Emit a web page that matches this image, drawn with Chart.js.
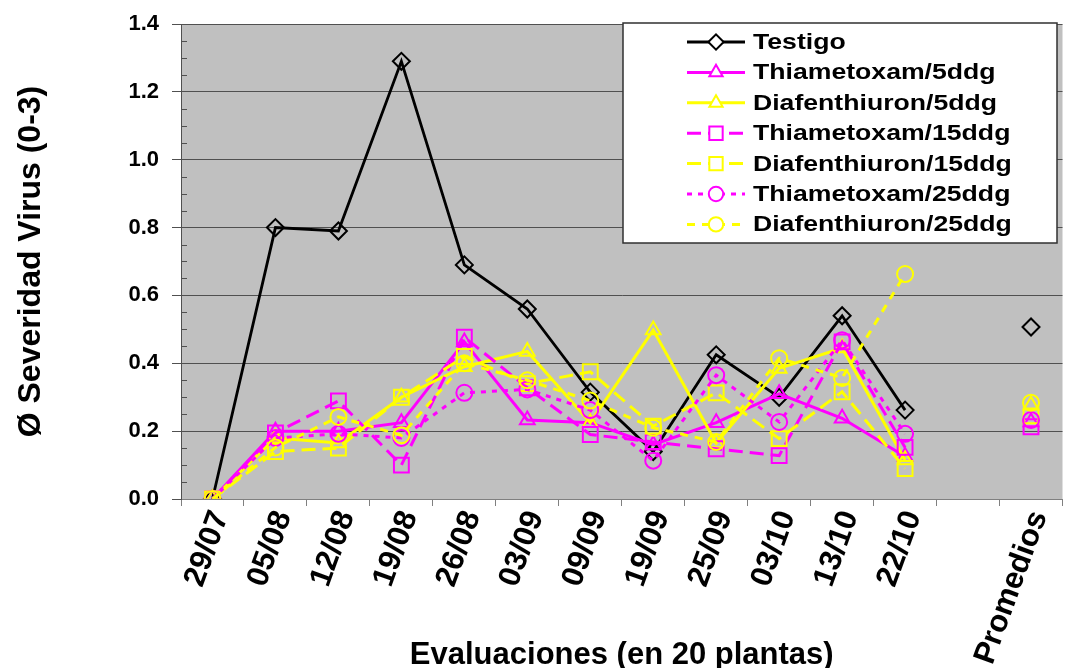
<!DOCTYPE html>
<html><head><meta charset="utf-8">
<style>
html,body{margin:0;padding:0;overflow:hidden;background:#fff;width:1067px;height:668px}
#wrap{position:absolute;left:0;top:0;width:1075px;height:668px}
</style>
<script src="https://cdn.jsdelivr.net/npm/chart.js@4.4.1/dist/chart.umd.min.js"></script>
</head><body><div id="wrap"><canvas id="c"></canvas></div>
<script>
const categories = ['29/07','05/08','12/08','19/08','26/08','03/09','09/09','19/09','25/09','03/10','13/10','22/10','','Promedios'];
const yTicks = [0,0.2,0.4,0.6,0.8,1.0,1.2,1.4];
const testigo = [0, 0.80, 0.79, 1.29, 0.69, 0.56, 0.315, 0.14, 0.425, 0.30, 0.54, 0.262, null, 0.507];
const thiam5  = [0, 0.20, 0.20, 0.225, 0.463, 0.233, 0.225, 0.16, 0.225, 0.31, 0.238, 0.125, null, 0.227];
const diaf5   = [0, 0.18, 0.165, 0.30, 0.39, 0.435, 0.225, 0.498, 0.165, 0.385, 0.445, 0.115, null, 0.276];
const thiam15 = [0, 0.195, 0.289, 0.10, 0.477, 0.328, 0.19, 0.168, 0.148, 0.128, 0.463, 0.152, null, 0.213];
const diaf15  = [0, 0.14, 0.15, 0.30, 0.42, 0.34, 0.375, 0.215, 0.313, 0.178, 0.316, 0.09, null, 0.245];
const thiam25 = [0, 0.18, 0.192, 0.18, 0.313, 0.323, 0.262, 0.113, 0.365, 0.227, 0.468, 0.192, null, 0.233];
const diaf25  = [0, 0.152, 0.242, 0.188, 0.40, 0.35, 0.29, 0.21, 0.168, 0.415, 0.357, 0.663, null, 0.284];

const FONT = "'Liberation Sans', Arial, sans-serif";
const MAG = '#FF00FF', YEL = '#FFFF00';
const series = [
  {label:'Testigo',            data:testigo, color:'#000000', style:'rectRot',  dash:[],     width:2.8, radius:8.5},
  {label:'Thiametoxam/5ddg',   data:thiam5,  color:MAG,       style:'triangle', dash:[],     width:3,   radius:8.5},
  {label:'Diafenthiuron/5ddg', data:diaf5,   color:YEL,       style:'triangle', dash:[],     width:3,   radius:8.5},
  {label:'Thiametoxam/15ddg',  data:thiam15, color:MAG,       style:'rect',     dash:[14,7], width:3,   radius:10.5},
  {label:'Diafenthiuron/15ddg',data:diaf15,  color:YEL,       style:'rect',     dash:[14,7], width:3,   radius:10.5},
  {label:'Thiametoxam/25ddg',  data:thiam25, color:MAG,       style:'circle',   dash:[5,6],  width:3,   radius:8},
  {label:'Diafenthiuron/25ddg',data:diaf25,  color:YEL,       style:'circle',   dash:[8,7],  width:3,   radius:8}
];

const bgPlugin = {
  id:'bg',
  beforeDraw(chart){
    const {ctx, chartArea:a} = chart;
    ctx.save(); ctx.fillStyle = '#C0C0C0';
    ctx.fillRect(a.left, a.top, a.right - a.left, a.bottom - a.top);
    ctx.restore();
  },
  beforeDatasetsDraw(chart){
    const {ctx, chartArea:a} = chart; const ys = chart.scales.y;
    ctx.save(); ctx.strokeStyle = '#505050'; ctx.lineWidth = 1;
    for (let k = 1; k < 28; k++) {
      if (k % 4 === 0) continue;
      const y = Math.round(ys.getPixelForValue(k * 0.05)) + 0.5;
      ctx.beginPath(); ctx.moveTo(a.left, y); ctx.lineTo(a.left + 6, y); ctx.stroke();
    }
    ctx.restore();
  }
};

const legendPlugin = {
  id:'boxLegend',
  afterDraw(chart){
    const ctx = chart.ctx;
    ctx.save();
    ctx.fillStyle = '#FFFFFF'; ctx.fillRect(623, 23, 434, 220);
    ctx.strokeStyle = '#303030'; ctx.lineWidth = 1.5; ctx.strokeRect(623, 23, 434, 220);
    series.forEach((s, i) => {
      const y = 42 + i * 30.4;
      ctx.save();
      ctx.strokeStyle = s.color; ctx.lineWidth = s.width; ctx.setLineDash(s.dash);
      ctx.beginPath(); ctx.moveTo(687, y); ctx.lineTo(745, y); ctx.stroke();
      ctx.setLineDash([]);
      ctx.fillStyle = '#FFFFFF'; ctx.lineWidth = 2;
      Chart.helpers.drawPoint(ctx, {pointStyle:s.style, radius:s.radius * 0.9, borderWidth:2, rotation:0}, 716, y);
      ctx.restore();
      ctx.save();
      ctx.fillStyle = '#000'; ctx.font = 'bold 22px ' + FONT; ctx.textBaseline = 'middle'; ctx.textAlign = 'left';
      ctx.translate(753, y + 1); ctx.scale(1.21, 1);
      ctx.fillText(s.label, 0, 0);
      ctx.restore();
    });
    ctx.restore();
  }
};

const datasets = series.map((s, i) => ({
  label: s.label,
  data: s.data,
  borderColor: s.color,
  borderWidth: s.width,
  borderDash: s.dash,
  pointStyle: s.style,
  pointRadius: s.radius,
  pointBorderWidth: 2,
  pointBorderColor: s.color,
  pointBackgroundColor: 'rgba(0,0,0,0)',
  fill: false,
  tension: 0,
  spanGaps: false,
  order: series.length - i
}));

new Chart(document.getElementById('c'), {
  type: 'line',
  data: { labels: categories, datasets },
  options: {
    responsive: true, maintainAspectRatio: false, animation: false,
    layout: { padding: { top: 24, right: 1, left: 0, bottom: 0 } },
    plugins: { legend: { display: false }, tooltip: { enabled: false } },
    scales: {
      x: {
        type: 'category', offset: true,
        grid: { offset: true, drawOnChartArea: false, drawTicks: true, tickLength: 7, color: '#808080' },
        border: { display: true, color: '#808080' },
        ticks: { autoSkip: false, minRotation: 70, maxRotation: 70, padding: 0, labelOffset: 8, color: '#000',
                 font: { family: FONT, size: 31, weight: 'bold' } },
        title: { display: true, text: 'Evaluaciones (en 20 plantas)', color: '#000',
                 font: { family: FONT, size: 31, weight: 'bold', lineHeight: 0.78 }, padding: { top: 0, bottom: 0 } },
        afterFit(s) { s.height = 169; }
      },
      y: {
        min: 0, max: 1.4,
        afterBuildTicks(s) { s.ticks = yTicks.map(v => ({ value: v })); },
        ticks: { callback: v => Number(v).toFixed(1), color: '#000', padding: 13,
                 font: { family: FONT, size: 22, weight: 'bold', lineHeight: 1.0 } },
        grid: { color: '#505050', lineWidth: 1, tickLength: 9, tickColor: '#505050' },
        border: { display: true, color: '#505050' },
        title: { display: true, text: 'Ø Severidad Virus (0-3)', color: '#000',
                 font: { family: FONT, size: 32, weight: 'bold' }, padding: { top: 12, bottom: 0 } },
        afterFit(s) { s.width = 181; }
      }
    }
  },
  plugins: [bgPlugin, legendPlugin]
});
</script>
</body></html>
